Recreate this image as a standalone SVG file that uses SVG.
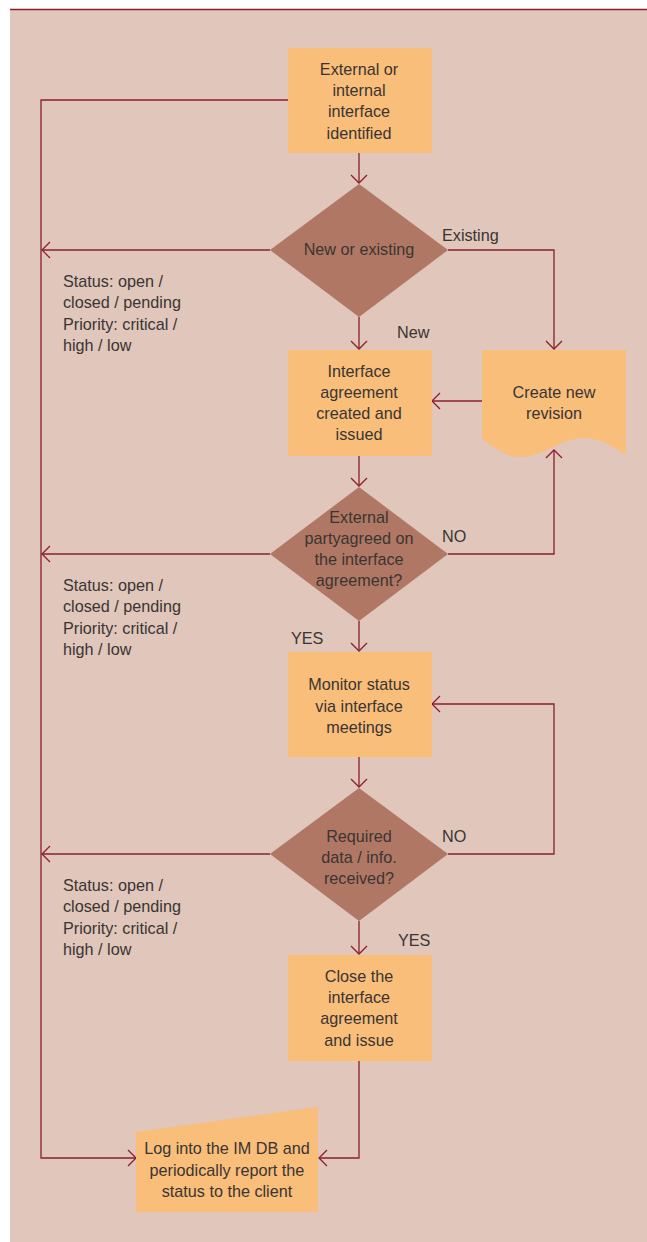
<svg xmlns="http://www.w3.org/2000/svg" width="647" height="1242" viewBox="0 0 647 1242">
<style>
.box{fill:#f8be7a;}
.dia{fill:#b07864;}
.t{font-family:"Liberation Sans",Arial,sans-serif;font-size:16.2px;fill:#3a3532;}
.c{text-anchor:middle;}
.ln{fill:none;stroke:#8b1f2c;stroke-width:1.3;}
</style>
<defs>
<marker id="ah" markerUnits="userSpaceOnUse" markerWidth="12" markerHeight="20" viewBox="0 0 12 20" refX="10" refY="10" orient="auto">
<path d="M2,2 L10,10 L2,18" fill="none" stroke="#8b1f2c" stroke-width="1.3"/>
</marker>
</defs>
<rect x="0" y="0" width="647" height="1242" fill="#ffffff"/>
<rect x="10" y="9" width="637" height="1233" fill="#e0c6bb"/>
<line x1="10" y1="9.5" x2="647" y2="9.5" stroke="#8b1f2c" stroke-width="1.5"/>

<g id="connectors">
<path class="ln" d="M359,153 V183" marker-end="url(#ah)"/>
<path class="ln" d="M359,317 V349" marker-end="url(#ah)"/>
<path class="ln" d="M448,250 H554 V349" marker-end="url(#ah)"/>
<path class="ln" d="M482,401 H432" marker-end="url(#ah)"/>
<path class="ln" d="M270,250 H42" marker-end="url(#ah)"/>
<path class="ln" d="M359,456 V486" marker-end="url(#ah)"/>
<path class="ln" d="M448,554 H554 V450" marker-end="url(#ah)"/>
<path class="ln" d="M270,554 H42" marker-end="url(#ah)"/>
<path class="ln" d="M359,621 V651" marker-end="url(#ah)"/>
<path class="ln" d="M359,757 V787" marker-end="url(#ah)"/>
<path class="ln" d="M448,854 H554 V704 H432" marker-end="url(#ah)"/>
<path class="ln" d="M270,854 H42" marker-end="url(#ah)"/>
<path class="ln" d="M359,921 V954" marker-end="url(#ah)"/>
<path class="ln" d="M359,1061 V1158 H319" marker-end="url(#ah)"/>
<path class="ln" d="M288,100 H41 V1158 H136" marker-end="url(#ah)"/>
</g>

<g id="n-identified">
<rect class="box" x="288" y="48" width="144" height="105"/>
<text class="t c" x="359" y="75">External or</text>
<text class="t c" x="359" y="96">internal</text>
<text class="t c" x="359" y="117">interface</text>
<text class="t c" x="359" y="139">identified</text>
</g>

<g id="n-new-existing">
<polygon class="dia" points="359,184 448,250 359,317 270,250"/>
<text class="t c" x="359" y="255">New or existing</text>
</g>

<g id="n-created">
<rect class="box" x="288" y="350" width="144" height="106"/>
<text class="t c" x="359" y="377">Interface</text>
<text class="t c" x="359" y="398">agreement</text>
<text class="t c" x="359" y="419">created and</text>
<text class="t c" x="359" y="440">issued</text>
</g>

<g id="n-revision">
<path class="box" d="M482,350 H626 V455 C612,446 600,438 584,438 C560,438 545,457 520,457 C505,457 492,446 482,439 Z"/>
<text class="t c" x="554" y="398">Create new</text>
<text class="t c" x="554" y="419">revision</text>
</g>

<g id="n-agreed">
<polygon class="dia" points="359,487 448,554 359,621 270,554"/>
<text class="t c" x="359" y="523">External</text>
<text class="t c" x="359" y="544">partyagreed on</text>
<text class="t c" x="359" y="565">the interface</text>
<text class="t c" x="359" y="586">agreement?</text>
</g>

<g id="n-monitor">
<rect class="box" x="288" y="652" width="144" height="105"/>
<text class="t c" x="359" y="690">Monitor status</text>
<text class="t c" x="359" y="712">via interface</text>
<text class="t c" x="359" y="733">meetings</text>
</g>

<g id="n-received">
<polygon class="dia" points="359,788 448,854 359,921 270,854"/>
<text class="t c" x="359" y="842">Required</text>
<text class="t c" x="359" y="863">data / info.</text>
<text class="t c" x="359" y="884">received?</text>
</g>

<g id="n-close">
<rect class="box" x="288" y="955" width="144" height="106"/>
<text class="t c" x="359" y="982">Close the</text>
<text class="t c" x="359" y="1003">interface</text>
<text class="t c" x="359" y="1024">agreement</text>
<text class="t c" x="359" y="1046">and issue</text>
</g>

<g id="n-log">
<polygon class="box" points="136,1132 318,1107 318,1212 136,1212"/>
<text class="t c" x="227" y="1154">Log into the IM DB and</text>
<text class="t c" x="227" y="1176">periodically report the</text>
<text class="t c" x="227" y="1197">status to the client</text>
</g>

<g id="labels">
<text class="t" x="442" y="241">Existing</text>
<text class="t" x="397" y="338">New</text>
<text class="t" x="442" y="542">NO</text>
<text class="t" x="291" y="644">YES</text>
<text class="t" x="442" y="842">NO</text>
<text class="t" x="398" y="946">YES</text>
</g>

<g id="status-1">
<text class="t" x="63" y="287">Status: open /</text>
<text class="t" x="63" y="308">closed / pending</text>
<text class="t" x="63" y="330">Priority: critical /</text>
<text class="t" x="63" y="351">high / low</text>
</g>
<g id="status-2">
<text class="t" x="63" y="591">Status: open /</text>
<text class="t" x="63" y="612">closed / pending</text>
<text class="t" x="63" y="634">Priority: critical /</text>
<text class="t" x="63" y="655">high / low</text>
</g>
<g id="status-3">
<text class="t" x="63" y="891">Status: open /</text>
<text class="t" x="63" y="912">closed / pending</text>
<text class="t" x="63" y="934">Priority: critical /</text>
<text class="t" x="63" y="955">high / low</text>
</g>
</svg>
